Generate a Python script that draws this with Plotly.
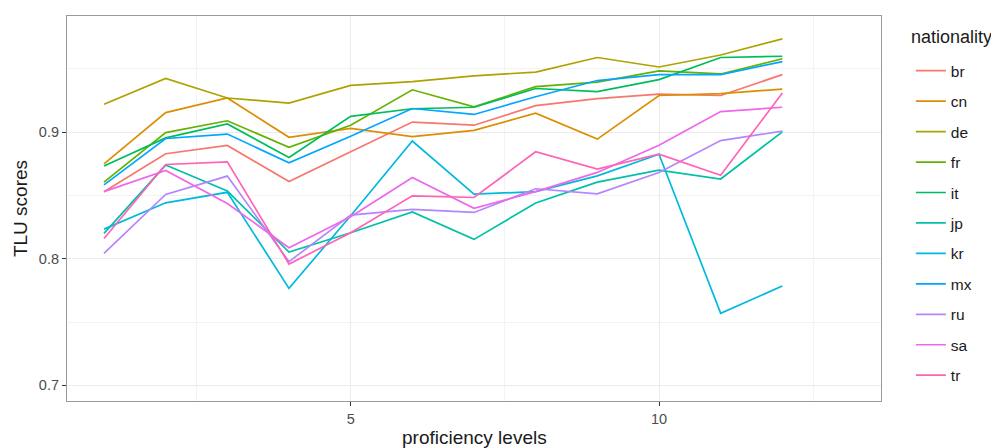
import plotly.graph_objects as go

levels = [1, 2, 3, 4, 5, 6, 7, 8, 9, 10, 11, 12]
nationalities = ["br", "cn", "de", "fr", "it", "jp", "kr", "mx", "ru", "sa", "tr"]
colors = ["#F8766D", "#DB8E00", "#AEA200", "#64B200", "#00BD5C", "#00C1A7",
          "#00BADE", "#00A6FF", "#B385FF", "#EF67EB", "#FF63B6"]

br = [0.853, 0.883, 0.8895, 0.861, 0.8845, 0.908, 0.9055, 0.921, 0.9265, 0.930, 0.929, 0.9455]
cn = [0.875, 0.9155, 0.927, 0.896, 0.903, 0.8965, 0.9015, 0.915, 0.8945, 0.929, 0.9305, 0.934]
de = [0.922, 0.9425, 0.927, 0.923, 0.937, 0.940, 0.9445, 0.9475, 0.959, 0.9515, 0.961, 0.9737]
fr = [0.8605, 0.8997, 0.909, 0.888, 0.9055, 0.9335, 0.920, 0.936, 0.9395, 0.9485, 0.946, 0.958]
it = [0.8732, 0.8955, 0.9065, 0.880, 0.9125, 0.9185, 0.9197, 0.9345, 0.932, 0.9415, 0.959, 0.960]
jp = [0.820, 0.874, 0.8535, 0.8053, 0.8205, 0.837, 0.8153, 0.844, 0.8605, 0.870, 0.863, 0.9003]
kr = [0.8234, 0.8442, 0.8525, 0.7766, 0.834, 0.893, 0.851, 0.853, 0.8655, 0.8826, 0.7569, 0.7785]
mx = [0.8584, 0.895, 0.8985, 0.8758, 0.8968, 0.9187, 0.914, 0.928, 0.9408, 0.9455, 0.9455, 0.9558]
ru = [0.8043, 0.8508, 0.8653, 0.7977, 0.8345, 0.839, 0.8366, 0.8553, 0.8513, 0.8682, 0.8934, 0.9008]
sa = [0.853, 0.8698, 0.8437, 0.8087, 0.8332, 0.8642, 0.8398, 0.853, 0.8682, 0.8897, 0.9163, 0.9197]
tr = [0.816, 0.8745, 0.8766, 0.7958, 0.8205, 0.8497, 0.8484, 0.8845, 0.8708, 0.8826, 0.866, 0.931]

series = [br, cn, de, fr, it, jp, kr, mx, ru, sa, tr]

fig = go.Figure()
for name, col, vals in zip(nationalities, colors, series):
    fig.add_trace(go.Scatter(
        x=levels, y=vals, mode="lines", name=name, legendgroup=name,
        line=dict(color=col, width=1.7),
    ))

font_family = "Liberation Sans, Arial, sans-serif"
title_color = "#1a1a1a"

fig.update_layout(
    width=991, height=440,
    margin=dict(l=59, r=118, t=8, b=47, autoexpand=False),
    paper_bgcolor="white", plot_bgcolor="white",
    font=dict(family=font_family, color="#4D4D4D"),
    showlegend=True,
    legend=dict(
        font=dict(size=15.5, color=title_color),
        x=1.0367, xanchor="left", y=0.901, yanchor="top",
        xref="paper", yref="paper",
        tracegroupgap=7.3,
        itemwidth=30,
        bgcolor="rgba(0,0,0,0)",
    ),
    xaxis=dict(
        range=[0.4, 13.6], tickvals=[5, 10], ticktext=["5", "10"],
        showgrid=True, gridcolor="#EBEBEB", gridwidth=1.3,
        minor=dict(tickvals=[2.5, 7.5, 12.5], showgrid=True, gridcolor="#F3F3F3", gridwidth=0.8, ticks=""),
        ticks="outside", ticklen=4, tickcolor="#333333", tickwidth=1.2,
        tickfont=dict(size=14.5, color="#4D4D4D"),
        showline=True, mirror=True, linecolor="#9a9a9a", linewidth=1.2,
        zeroline=False, automargin=False,
    ),
    yaxis=dict(
        range=[0.6876, 0.9918], tickvals=[0.7, 0.8, 0.9], ticktext=["0.7", "0.8", "0.9"],
        showgrid=True, gridcolor="#EBEBEB", gridwidth=1.3,
        minor=dict(tickvals=[0.75, 0.85, 0.95], showgrid=True, gridcolor="#F3F3F3", gridwidth=0.8, ticks=""),
        ticks="outside", ticklen=4, tickcolor="#333333", tickwidth=1.2,
        tickfont=dict(size=14.5, color="#4D4D4D"),
        showline=True, mirror=True, linecolor="#9a9a9a", linewidth=1.2,
        zeroline=False, automargin=False,
    ),
    annotations=[
        dict(text="proficiency levels", xref="paper", yref="paper", x=0.5, y=-0.096,
             xanchor="center", yanchor="middle", showarrow=False,
             font=dict(size=19, color=title_color, family=font_family)),
        dict(text="TLU scores", xref="paper", yref="paper", x=-0.057, y=0.5,
             xanchor="center", yanchor="middle", showarrow=False, textangle=-90,
             font=dict(size=19, color=title_color, family=font_family)),
        dict(text="nationality", xref="paper", yref="paper", x=1.0345, y=0.9455,
             xanchor="left", yanchor="middle", showarrow=False,
             font=dict(size=18, color=title_color, family=font_family)),
    ],
)

fig.write_html("out.html")
